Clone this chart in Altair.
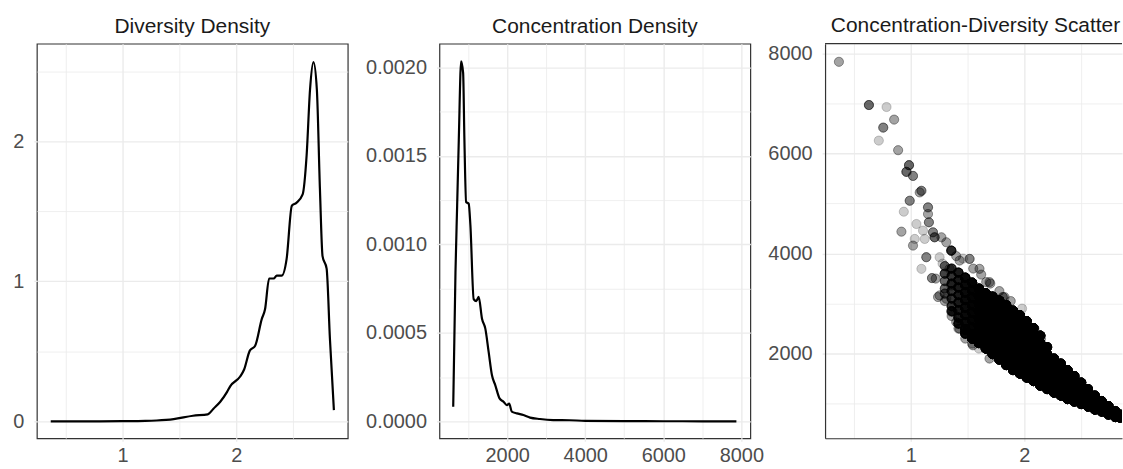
import altair as alt
import pandas as pd

# ---------------- data ----------------
div_x = [0.368, 0.6, 0.8, 1.0, 1.2, 1.3, 1.45, 1.62, 1.75, 1.80, 1.86, 1.92, 1.947,
         2.035, 2.07, 2.12, 2.167, 2.225, 2.254, 2.29, 2.33, 2.357, 2.40, 2.444,
         2.49, 2.53, 2.585, 2.62, 2.65, 2.68, 2.71, 2.737, 2.76, 2.796, 2.825, 2.86]
div_y = [0.0, 0.0, 0.0, 0.001, 0.003, 0.006, 0.016, 0.04, 0.05, 0.09, 0.14, 0.21, 0.25,
         0.32, 0.37, 0.505, 0.54, 0.73, 0.80, 1.02, 1.02, 1.04, 1.04, 1.16,
         1.54, 1.56, 1.62, 1.90, 2.37, 2.565, 2.37, 1.66, 1.18, 1.09, 0.59, 0.08]

conc_x = [617, 675, 718, 760, 820, 871, 904, 948, 1014, 1057, 1142, 1210, 1269, 1355,
          1440, 1524, 1610, 1694, 1804, 1906, 1992, 2051, 2119, 2247, 2415, 2586,
          2841, 3180, 3600, 4000, 5000, 6000, 7000, 7873]
conc_y = [0.0000827, 0.000843, 0.00122, 0.00159, 0.002035, 0.00197, 0.00159, 0.00124,
          0.00123, 0.00111, 0.00069, 0.00068, 0.000704, 0.00058, 0.000524, 0.000394,
          0.00026, 0.000205, 0.00013, 0.000111, 0.0000918, 0.0001, 0.0000546, 0.000045,
          0.0000355, 0.000021, 0.000013, 0.0000073, 0.000006, 0.000003, 0.000001,
          0.0000005, 0.0000002, 0.0000001]

# scattered (sparse) observations: diversity, concentration, number of overlapping obs
out_div = [0.368, 0.632, 0.787, 0.854, 0.758, 0.719, 0.889, 0.985, 0.962, 1.020,
           1.094, 1.079, 0.991, 1.152, 1.152, 1.160, 0.939, 0.918, 1.050, 1.108,
           1.035, 1.123, 1.210, 1.020, 1.357, 1.313, 1.254, 1.137, 1.094, 1.187,
           1.240, 1.518, 1.430, 1.605, 1.693, 1.342, 1.298, 1.357, 1.357, 1.400,
           1.254, 1.430, 1.810, 2.070, 1.313, 1.371, 1.547, 1.693, 1.664, 1.825,
           2.088, 2.146, 1.196, 1.270, 1.220, 1.280,
           1.300, 1.360, 1.420, 1.480, 1.540, 1.600, 1.400, 1.460, 1.550, 1.620,
           1.700, 1.780, 1.880, 1.980]
out_conc = [7836, 6972, 6932, 6680, 6520, 6260, 6068, 5769, 5635, 5554,
            5256, 5224, 5057, 4925, 4792, 4626, 4838, 4439, 4592, 4460,
            4293, 4293, 4327, 4160, 4060, 4227, 3928, 3928, 3695, 3510,
            3131, 3894, 3861, 3695, 3430, 3695, 3595, 3362, 2831, 2632,
            3163, 2499, 3131, 2439, 3097, 2837, 2166, 1900, 3430, 3131,
            2499, 2299, 4426, 4327, 3500, 3800,
            3050, 2750, 2500, 2300, 2200, 2100, 3950, 3900, 3700, 3580,
            3400, 3250, 3050, 2900]
out_n = [2, 4, 1, 2, 3, 1, 2, 4, 4, 3,
         3, 2, 3, 3, 2, 3, 1, 2, 1, 1,
         1, 1, 4, 2, 8, 2, 1, 3, 1, 3,
         2, 3, 2, 2, 2, 2, 2, 2, 1, 2,
         2, 2, 3, 2, 2, 2, 2, 2, 2, 2,
         2, 2, 3, 2, 2, 1,
         2, 2, 2, 2, 2, 1, 2, 1, 2, 2,
         2, 2, 2, 1]

# dense band: one entry per diversity column
band_div = [1.30, 1.36, 1.42, 1.48, 1.54, 1.60, 1.66, 1.72, 1.78, 1.84, 1.90, 1.96,
            2.02, 2.08, 2.14, 2.20, 2.26, 2.32, 2.38, 2.44, 2.50, 2.56, 2.62, 2.68,
            2.74, 2.80, 2.84]
band_conc = [
    [3750, 3600, 3450, 3300, 3200],
    [3700, 3550, 3400, 3250, 3100, 2950, 2850],
    [3620, 3470, 3320, 3170, 3020, 2870, 2720, 2600],
    [3520, 3370, 3220, 3070, 2920, 2770, 2620, 2480, 2400],
    [3420, 3270, 3120, 2970, 2820, 2670, 2520, 2390, 2300],
    [3300, 3150, 3000, 2850, 2700, 2550, 2400, 2290, 2210],
    [3210, 3060, 2910, 2760, 2610, 2460, 2310, 2190, 2100],
    [3140, 2990, 2840, 2690, 2540, 2390, 2240, 2110, 1990],
    [3060, 2910, 2760, 2610, 2460, 2310, 2160, 2010, 1880],
    [2970, 2820, 2670, 2520, 2370, 2220, 2070, 1920, 1770],
    [2860, 2710, 2560, 2410, 2260, 2110, 1960, 1810, 1670],
    [2770, 2620, 2470, 2320, 2170, 2020, 1870, 1730, 1600],
    [2650, 2500, 2350, 2200, 2050, 1900, 1750, 1620, 1520],
    [2510, 2360, 2210, 2060, 1910, 1760, 1610, 1450],
    [2360, 2210, 2060, 1910, 1760, 1610, 1480, 1360],
    [2130, 1990, 1850, 1710, 1570, 1430, 1290],
    [1900, 1770, 1640, 1510, 1380, 1220],
    [1800, 1670, 1540, 1410, 1280, 1160],
    [1670, 1550, 1430, 1310, 1190, 1090],
    [1550, 1440, 1330, 1220, 1120, 1040],
    [1420, 1320, 1220, 1120, 1040, 990],
    [1290, 1200, 1110, 1020, 940],
    [1160, 1080, 1000, 930, 880],
    [1050, 980, 910, 840],
    [950, 880, 820, 780],
    [850, 790, 730],
    [780, 720],
]
band_n = [4, 7, 10, 14, 18, 22, 22, 22, 22, 22, 22, 22, 22, 22, 22, 22, 22, 22, 22,
          22, 22, 22, 22, 22, 22, 22, 22]

# axis ticks (major labelled, minor grid only)
div_major, div_minor = [1, 2], [0.5, 1.5, 2.5]
dens1_major, dens1_minor = [0, 1, 2], [0.5, 1.5, 2.5]
conc_major, conc_minor = [2000, 4000, 6000, 8000], [1000, 3000, 5000, 7000]
dens2_major = [0, 0.0005, 0.001, 0.0015, 0.002]
dens2_minor = [0.00025, 0.00075, 0.00125, 0.00175]

# ---------------- build tables ----------------
df_div = pd.DataFrame({"diversity": div_x, "density": div_y})
df_conc = pd.DataFrame({"concentration": conc_x, "density": conc_y})

rows = []
for d, c, n in zip(out_div, out_conc, out_n):
    rows += [(d, c)] * n
for d, cs, n in zip(band_div, band_conc, band_n):
    for c in cs:
        rows += [(d, c)] * n
df_sc = pd.DataFrame(rows, columns=["diversity", "concentration"])

FONT = "Liberation Sans"
LABEL = "#4d4d4d"
GRID = "#ebebeb"
BORDER = "#333333"


def major_axis(values, fmt, orient, domain=False):
    extra = dict(domain=True, domainColor=BORDER, domainWidth=1.2) if domain else dict(domain=False)
    return alt.Axis(
        values=values, format=fmt, title=None, orient=orient,
        grid=True, gridColor=GRID, gridWidth=1.4,
        tickColor=GRID, tickWidth=1.4, tickSize=3,
        labelFont=FONT, labelFontSize=20, labelColor=LABEL,
        labelPadding=10 if orient == "left" else 4,
        labelOverlap=False, labelFlush=False,
        **extra,
    )


def minor_axis(values, orient):
    return alt.Axis(values=values, title=None, orient=orient, labels=False, ticks=False,
                    domain=False, grid=True, gridColor=GRID, gridWidth=0.8)


W, H = 312, 396
W3 = 298
DIV_DOMAIN = [0.246, 2.982]
DIV_DOMAIN3 = [0.246, 0.246 + (2.982 - 0.246) * W3 / W]


def title(txt, dx=0):
    return alt.TitleParams(txt, font=FONT, fontSize=21, fontWeight="normal",
                           color="#1a1a1a", anchor="middle", offset=7, dx=dx)


def sc(domain):
    return alt.Scale(domain=domain, nice=False, zero=False)


boxed = alt.ViewBackground(stroke=BORDER, strokeWidth=1.2)

# ---- panel 1 ----
p1_grid = alt.Chart(df_div).mark_point(opacity=0).encode(
    x=alt.X("diversity:Q", scale=sc(DIV_DOMAIN), axis=minor_axis(div_minor, "top")),
    y=alt.Y("density:Q", scale=sc([-0.121, 2.697]), axis=minor_axis(dens1_minor, "right")),
)
p1_line = alt.Chart(df_div).mark_line(color="black", strokeWidth=2.2, interpolate="monotone").encode(
    x=alt.X("diversity:Q", scale=sc(DIV_DOMAIN), axis=major_axis(div_major, "d", "bottom")),
    y=alt.Y("density:Q", scale=sc([-0.121, 2.697]), axis=major_axis(dens1_major, "d", "left")),
)
p1 = alt.layer(p1_grid, p1_line).resolve_axis(x="independent", y="independent").properties(
    width=W, height=H, title=title("Diversity Density"), view=boxed)

# ---- panel 2 ----
D2 = [-0.0000958, 0.002135]
C2 = [264, 8230]
p2_grid = alt.Chart(df_conc).mark_point(opacity=0).encode(
    x=alt.X("concentration:Q", scale=sc(C2), axis=minor_axis(conc_minor, "top")),
    y=alt.Y("density:Q", scale=sc(D2), axis=minor_axis(dens2_minor, "right")),
)
p2_line = alt.Chart(df_conc).mark_line(color="black", strokeWidth=2.2, interpolate="monotone").encode(
    x=alt.X("concentration:Q", scale=sc(C2), axis=major_axis(conc_major, "d", "bottom")),
    y=alt.Y("density:Q", scale=sc(D2), axis=major_axis(dens2_major, ".4f", "left")),
)
p2 = alt.layer(p2_grid, p2_line).resolve_axis(x="independent", y="independent").properties(
    width=W, height=H, title=title("Concentration Density"), view=boxed)

# ---- panel 3 ----
C3 = [306, 8199]
p3_grid = alt.Chart(df_div.head(1)).mark_point(opacity=0).encode(
    x=alt.X("diversity:Q", scale=sc(DIV_DOMAIN3), axis=minor_axis(div_minor, "top")),
    y=alt.Y("density:Q", scale=sc(C3), axis=minor_axis(conc_minor, "right")),
)
p3_pts = alt.Chart(df_sc).mark_circle(size=85, fill="black", fillOpacity=0.2, stroke="black",
                                      strokeOpacity=0.2, strokeWidth=1, clip=True).encode(
    x=alt.X("diversity:Q", scale=sc(DIV_DOMAIN3),
            axis=major_axis(div_major, "d", "bottom", domain=True)),
    y=alt.Y("concentration:Q", scale=sc(C3),
            axis=major_axis(conc_major, "d", "left", domain=True)),
)
top_border = alt.Chart(pd.DataFrame({"k": [0]})).mark_rule(
    color=BORDER, strokeWidth=1.2).encode(
    x=alt.value(0), x2=alt.value(W3), y=alt.value(0))

p3 = alt.layer(p3_grid, p3_pts, top_border).resolve_axis(
    x="independent", y="independent").properties(
    width=W3, height=H, title=title("Concentration-Diversity Scatter", dx=2),
    view=alt.ViewBackground(strokeWidth=0))

chart = alt.hconcat(alt.hconcat(p1, p2, spacing=16), p3, spacing=3).properties(
    padding={"left": 12, "top": 14, "right": 0, "bottom": 0},
    background="white",
)

chart.save("out.html", embed_options={"renderer": "svg", "actions": False})
